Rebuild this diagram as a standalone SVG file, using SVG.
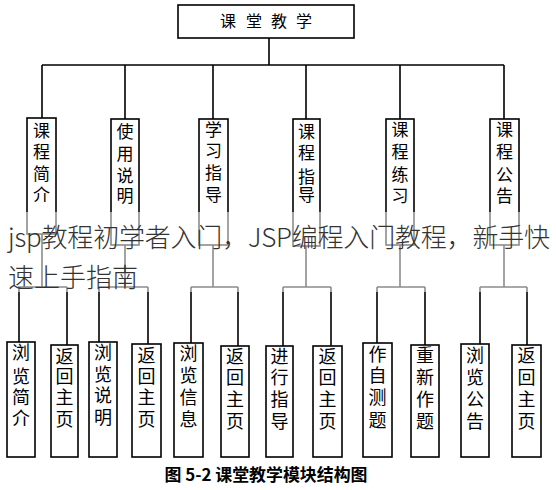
<svg xmlns="http://www.w3.org/2000/svg" width="556" height="490" viewBox="0 0 556 490">
<style>
.box{fill:#fff;stroke:#000;stroke-width:1.6}
.ln{stroke:#000;stroke-width:1.6;fill:none}
.t{font-family:"Noto Sans CJK SC","Noto Sans",sans-serif;font-size:17px;fill:#000;text-anchor:middle}
.t3{font-family:"Noto Sans CJK SC","Noto Sans",sans-serif;font-size:18px;fill:#000;text-anchor:middle}
.ov{font-family:"Noto Sans CJK SC","Noto Sans",sans-serif;font-size:26px;fill:#333;font-weight:300}
.cap{font-family:"Noto Sans CJK SC","Noto Sans",sans-serif;font-size:17px;fill:#000;font-weight:700;text-anchor:middle}
</style>
<rect width="556" height="490" fill="#fff"/>
<g id="connectors">
<path class="ln" d="M269 38V65M42 65H504M42 65V118M125 65V119M213 65V119M306 65V119M400 65V119M504 65V119"/>
<path class="ln" d="M42 234V287M18 287H67M19 287V342M67 287V345"/>
<path class="ln" d="M125 245V287M99 287H148M99 287V342M148 287V344"/>
<path class="ln" d="M213 245V287M191 287H238M191 287V343M238 287V346"/>
<path class="ln" d="M306 246V287M283 287H331M283 287V346M331 287V346"/>
<path class="ln" d="M400 245V287M377 287H425M377 287V343M425 287V345"/>
<path class="ln" d="M504 245V287M480 287H527M480 287V344M527 287V345"/>
</g>
<g id="root"><rect class="box" x="178" y="5" width="176" height="33"/><text class="t" style="font-size:16px" x="228 254 279 304" y="27">课堂教学</text></g>
<g id="n1"><rect class="box" x="27" y="118" width="29" height="116"/><text class="t" x="41.5 41.5 41.5 41.5" y="137 158 180 201">课程简介</text></g>
<g id="n2"><rect class="box" x="111" y="119" width="28" height="126"/><text class="t" x="125 125 125 125" y="138 160 182 202">使用说明</text></g>
<g id="n3"><rect class="box" x="199" y="119" width="29" height="126"/><text class="t" x="213.5 213.5 213.5 213.5" y="136 157 179 201">学习指导</text></g>
<g id="n4"><rect class="box" x="293" y="119" width="27" height="127"/><text class="t" x="306.5 306.5 306.5 306.5" y="138 159 183 201">课程指导</text></g>
<g id="n5"><rect class="box" x="386" y="119" width="28" height="126"/><text class="t" x="400 400 400 400" y="136 158 181 202">课程练习</text></g>
<g id="n6"><rect class="box" x="490" y="119" width="29" height="126"/><text class="t" x="504.5 504.5 504.5 504.5" y="136 158 181 202">课程公告</text></g>
<g id="m1"><rect class="box" x="7" y="342" width="28" height="115"/><text class="t3" x="21 21 21 21" y="359 383 404 425">浏览简介</text></g>
<g id="m2"><rect class="box" x="51" y="345" width="27" height="112"/><text class="t3" x="64.5 64.5 64.5 64.5" y="363 383 404 426">返回主页</text></g>
<g id="m3"><rect class="box" x="89" y="342" width="28" height="115"/><text class="t3" x="103 103 103 103" y="359 381 402 424">浏览说明</text></g>
<g id="m4"><rect class="box" x="132" y="344" width="29" height="113"/><text class="t3" x="146.5 146.5 146.5 146.5" y="362 383 404 426">返回主页</text></g>
<g id="m5"><rect class="box" x="174" y="343" width="29" height="114"/><text class="t3" x="188.5 188.5 188.5 188.5" y="360 382 404 426">浏览信息</text></g>
<g id="m6"><rect class="box" x="221" y="346" width="28" height="111"/><text class="t3" x="235 235 235 235" y="363 384 406 428">返回主页</text></g>
<g id="m7"><rect class="box" x="266" y="346" width="27" height="111"/><text class="t3" x="279.5 279.5 279.5 279.5" y="363 384 406 428">进行指导</text></g>
<g id="m8"><rect class="box" x="313" y="346" width="29" height="111"/><text class="t3" x="327.5 327.5 327.5 327.5" y="363 384 406 428">返回主页</text></g>
<g id="m9"><rect class="box" x="363" y="343" width="29" height="114"/><text class="t3" x="377.5 377.5 377.5 377.5" y="361 382 404 427">作自测题</text></g>
<g id="m10"><rect class="box" x="411" y="345" width="28" height="112"/><text class="t3" x="425 425 425 425" y="362 384 406 428">重新作题</text></g>
<g id="m11"><rect class="box" x="461" y="344" width="28" height="113"/><text class="t3" x="475 475 475 475" y="362 384 406 428">浏览公告</text></g>
<g id="m12"><rect class="box" x="512" y="345" width="29" height="112"/><text class="t3" x="526.5 526.5 526.5 526.5" y="362 384 406 428">返回主页</text></g>
<rect x="0" y="212" width="556" height="80" fill="#fff" fill-opacity="0.55"/>
<text class="ov" x="8" y="247" textLength="542" lengthAdjust="spacing">jsp教程初学者入门，JSP编程入门教程，新手快</text>
<text class="ov" x="8" y="287">速上手指南</text>
<text class="cap" x="266" y="481" textLength="203" lengthAdjust="spacingAndGlyphs">图 5-2 课堂教学模块结构图</text>
</svg>
